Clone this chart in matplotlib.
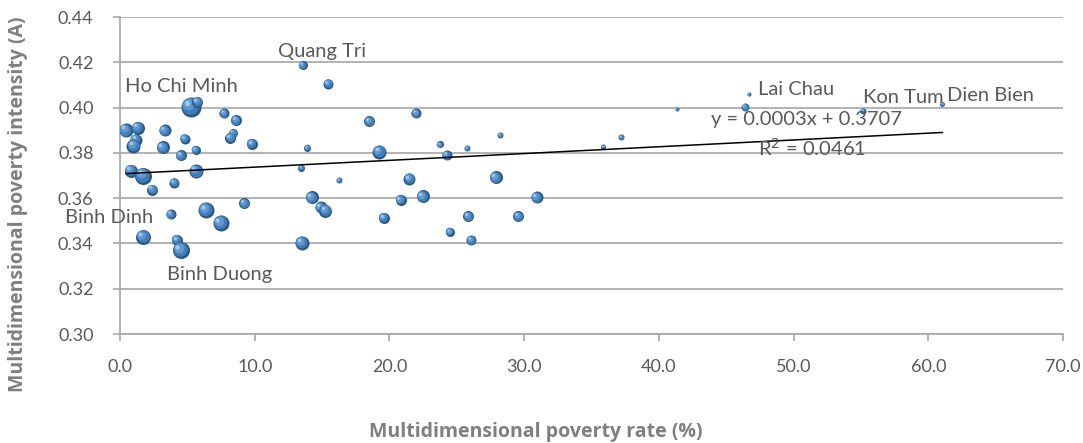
import numpy as np
import matplotlib
matplotlib.use('Agg')
import matplotlib.pyplot as plt
from matplotlib.transforms import ScaledTranslation

plt.rcParams['font.family'] = ['Lato', 'DejaVu Sans']

# multidimensional poverty rate (%), intensity (A), bubble size (relative)
rate = [5.25, 5.75, 7.72, 8.61, 0.45, 1.31, 3.31, 1.19, 0.99, 3.16,
        4.80, 5.61, 4.51, 8.41, 8.17, 9.78, 13.90, 13.44, 16.26, 18.50,
        19.25, 21.97, 21.48, 20.83, 22.47, 19.59, 0.79, 1.73, 2.40, 4.01,
        5.66, 3.76, 6.38, 7.47, 9.21, 14.23, 14.89, 15.24, 1.73, 4.21,
        4.51, 13.51, 15.47, 13.56, 23.73, 25.76, 28.21, 35.88, 37.21, 24.25,
        27.89, 30.94, 25.86, 29.55, 24.48, 26.06, 46.69, 46.40, 41.33, 55.14,
        61.05]
intensity = [0.4003, 0.4025, 0.3976, 0.3944, 0.3900, 0.3910, 0.3900, 0.3858, 0.3831, 0.3825,
             0.3863, 0.3814, 0.3789, 0.3887, 0.3867, 0.3840, 0.3823, 0.3734, 0.3681, 0.3940,
             0.3806, 0.3976, 0.3685, 0.3592, 0.3608, 0.3513, 0.3722, 0.3700, 0.3638, 0.3668,
             0.3719, 0.3530, 0.3548, 0.3491, 0.3577, 0.3604, 0.3560, 0.3545, 0.3430, 0.3416,
             0.3371, 0.3402, 0.4106, 0.4187, 0.3837, 0.3821, 0.3879, 0.3828, 0.3870, 0.3789,
             0.3692, 0.3604, 0.3520, 0.3520, 0.3452, 0.3415, 0.4059, 0.4003, 0.3994, 0.3985,
             0.4016]
size = [20, 11, 10, 11, 14, 13, 12, 12, 14, 13,
        10, 9, 11, 9, 11, 11, 7, 7, 6, 11,
        14, 10, 12, 11, 13, 11, 13, 17, 11, 10,
        14, 10, 16, 16, 11, 13, 12, 13, 15, 11,
        17, 14, 10, 9, 7, 6, 6, 5, 6, 10,
        13, 12, 11, 11, 9, 10, 4, 8, 4, 6,
        5]

province_names = ['Quang Tri', 'Ho Chi Minh', 'Binh Dinh', 'Binh Duong',
                  'Lai Chau', 'Kon Tum', 'Dien Bien']
province_x = [11.73, 0.37, -4.08, 3.47, 47.34, 55.14, 61.37]
province_y = [0.4223, 0.4069, 0.3491, 0.3238, 0.4055, 0.4019, 0.4029]

slope, intercept = 0.0003, 0.3707
r2 = 0.0461

fig = plt.figure(figsize=(10.83, 4.43), dpi=100)
ax = fig.add_axes([0.1108, 0.2460, 0.8707, 0.7156])

ax.set_xlim(0, 70)
ax.set_ylim(0.30, 0.44)
ax.set_xticks(np.arange(0, 71, 10))
ax.set_yticks(np.arange(0.30, 0.441, 0.02))
ax.set_xticklabels(['%.1f' % v for v in np.arange(0, 71, 10)])
ax.set_yticklabels(['%.2f' % v for v in np.arange(0.30, 0.441, 0.02)])
ax.yaxis.grid(True, color='#a6a6a6', linewidth=1.2)
ax.set_axisbelow(True)
for s in ['top', 'right']:
    ax.spines[s].set_visible(False)
for s in ['left', 'bottom']:
    ax.spines[s].set_color('#a6a6a6')
    ax.spines[s].set_linewidth(1.2)
ax.tick_params(axis='both', direction='out', length=5, width=1.2, color='#a6a6a6',
               labelcolor='#595959', labelsize=13)
ax.tick_params(axis='y', pad=14)
ax.tick_params(axis='x', pad=13)

# spheres: dark base plus lighter layers shifted up-left
shades = [(1.0, '#2a5783', 0.0), (0.84, '#427db6', 0.05), (0.58, '#6099d0', 0.13), (0.26, '#a3c7e8', 0.2)]
for x, y, d in zip(rate, intensity, size):
    for frac, col, off in shades:
        dpt = d * 0.72 * frac
        tr = ax.transData + ScaledTranslation(-off * d / 100, off * d / 100, fig.dpi_scale_trans)
        ax.scatter([x], [y], s=dpt ** 2, color=col, linewidths=0, transform=tr, zorder=3)

# linear trend
xt = np.array([min(rate), max(rate)])
ax.plot(xt, slope * xt + intercept, color='black', linewidth=1.1, zorder=4)

for name, x, y in zip(province_names, province_x, province_y):
    ax.text(x, y, name, color='#595959', fontsize=14.5, va='baseline', ha='left', zorder=5)
ax.text(43.87, 0.3923, 'y = %.4fx + %.4f' % (slope, intercept), color='#595959',
        fontsize=14.5, va='baseline', ha='left', zorder=5)
ax.text(47.39, 0.3786, 'R$^2$ = %.4f' % r2, color='#595959',
        fontsize=14.5, va='baseline', ha='left', zorder=5)

ax.set_xlabel('Multidimensional poverty rate (%)', fontsize=14, fontweight='bold',
              color='#7f7f7f', family='Open Sans')
ax.set_ylabel('Multidimensional poverty intensity (A)', fontsize=14, fontweight='bold',
              color='#7f7f7f', family='Open Sans')
ax.xaxis.set_label_coords(0.441, -0.278)
ax.yaxis.set_label_coords(-0.108, 0.410)
ax.yaxis.label.set_va('center')

fig.savefig('out.png', dpi=100)
